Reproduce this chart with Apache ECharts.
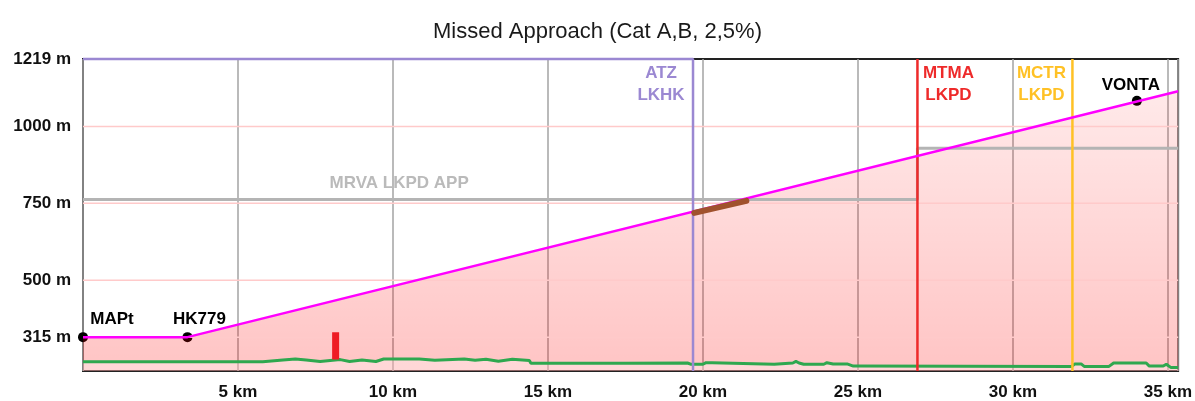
<!DOCTYPE html>
<html>
<head>
<meta charset="utf-8">
<title>Missed Approach</title>
<script src="https://cdn.jsdelivr.net/npm/echarts@6/dist/echarts.min.js"></script>
<style>
  html,body{margin:0;padding:0;background:#fff;}
  #box{width:1195px;height:401px;}
</style>
</head>
<body>
<div id="box"></div>
<script>
// y axis labels (m)
var yTicks = [315, 500, 750, 1000, 1219];
var yMin = 205, yMax = 1219;
var xMax = 35.33;

// missed approach track: km / m
var profileKm = [0, 3.37, 35.33];
var profileAlt = [315, 315, 1114];

// waypoints
var wptNames = ['MAPt', 'HK779', 'VONTA'];
var wptKm = [0, 3.37, 34.0];
var wptAlt = [315, 315, 1083];

// terrain profile
var terrainKm = [0,2.2,2.25,2.3,5.8,5.85,6.45,6.5,6.85,6.9,7.2,7.25,7.65,7.7,8.3,8.35,8.6,8.65,9.0,9.05,9.45,9.5,9.7,10.85,10.9,11.35,11.4,12.3,12.35,12.65,12.7,13.0,13.05,13.4,13.45,13.85,13.9,14.4,14.45,17.5,17.55,19.5,19.6,20.0,20.1,20.3,20.35,22.3,22.35,22.9,23.0,23.1,23.25,23.9,24.0,24.2,24.65,24.85,31.9,32.0,32.2,32.3,33.1,33.25,33.7,33.75,33.8,34.3,34.4,34.85,34.95,35.1,35.33];
var terrainAlt = [235,235,232,235,235,241,241,244,244,241,241,236,236,242,242,236,236,242,241,236,236,240,244,244,240,240,244,244,240,240,243,243,237,237,243,243,239,239,230,230,231,231,227,227,232,232,227,227,231,231,236,231,227,227,232,228,228,221,220,228,228,220,220,231,231,236,231,231,221,221,227,216,216];

// airspace boundaries
var zoneNames = ['ATZ\nLKHK', 'MTMA\nLKPD', 'MCTR\nLKPD'];
var zoneKm = [19.68, 26.92, 31.92];

// minimum radar vectoring altitude
var mrvaKm = [0, 26.92, 26.92, 35.33];
var mrvaAlt = [762, 762, 929, 929];
var mrvaLabel = 'MRVA LKPD APP';
var mrvaLabelKm = 10.2;

// obstacle
var obstKm = [8.15, 8.15];
var obstAlt = [242, 331];

// brown segment near ATZ
var segKm = [19.72, 21.4];
var segAlt = [719, 758];

function zip(a, b){
  return a.map(function(v, i){ return [v, b[i]]; });
}

var zoneColors = ['#9b88d2', '#ee2a2a', '#ffc125'];
var zoneOffsets = [[-32, 25], [31, 25], [-31, 25]];

var series = [];

// pink grid lines at the y ticks
yTicks.forEach(function(v){
  if (v >= yMax) return;
  series.push({
    type: 'line', data: [[0, v], [xMax, v]], symbol: 'none', silent: true,
    lineStyle: {color: '#ffcaca', width: 1.5}
  });
});

// area under the track
series.push({
  type: 'line', data: zip(profileKm, profileAlt), symbol: 'none',
  lineStyle: {width: 0},
  areaStyle: {
    color: new echarts.graphic.LinearGradient(0, 0, 0, 1, [
      {offset: 0, color: 'rgba(255,0,0,0.12)'},
      {offset: 1, color: 'rgba(255,0,0,0.33)'}
    ])
  }
});

// terrain
series.push({
  type: 'line', data: zip(terrainKm, terrainAlt), symbol: 'none',
  lineStyle: {color: '#2ea84f', width: 3},
  areaStyle: {color: 'rgba(255,255,255,0.45)'}
});

// MRVA
series.push({
  type: 'line', data: zip(mrvaKm, mrvaAlt), symbol: 'none',
  lineStyle: {color: '#b4b4b4', width: 3}
});

// airspace vertical lines
zoneKm.forEach(function(km, i){
  var d = [[km, yMax], [km, yMin]];
  if (i === 0) d.unshift([0, yMax]);
  series.push({
    type: 'line', data: d, symbol: 'none', clip: false,
    lineStyle: {color: zoneColors[i], width: 2.5}
  });
});

// obstacle
series.push({
  type: 'line', data: zip(obstKm, obstAlt), symbol: 'none',
  lineStyle: {color: '#ee1c24', width: 7, cap: 'butt'}
});

// track line
series.push({
  type: 'line', data: zip(profileKm, profileAlt), symbol: 'none',
  lineStyle: {color: '#ff00ff', width: 2.5}
});

// brown segment
series.push({
  type: 'line', data: zip(segKm, segAlt), symbol: 'none',
  lineStyle: {color: '#a0522d', width: 6, cap: 'round'}
});

// waypoints
var wptOffsets = [[29, -18], [12, -18], [-6, -16]];
series.push({
  type: 'scatter', symbolSize: 10, clip: false,
  itemStyle: {color: '#000', opacity: 1},
  data: wptKm.map(function(km, i){
    return {
      value: [km, wptAlt[i]], name: wptNames[i],
      label: {show: true, position: 'inside', offset: wptOffsets[i], formatter: '{b}',
        color: '#000', fontSize: 17, fontWeight: 'bold', fontFamily: 'Liberation Sans'}
    };
  })
});

// text labels (airspaces + MRVA)
var labelData = zoneKm.map(function(km, i){
  return {
    value: [km, yMax], name: zoneNames[i],
    label: {show: true, position: 'inside', offset: zoneOffsets[i], formatter: '{b}',
      color: zoneColors[i], fontSize: 17, fontWeight: 'bold', lineHeight: 22,
      fontFamily: 'Liberation Sans', align: 'center'}
  };
});
labelData.push({
  value: [mrvaLabelKm, mrvaAlt[0]], name: mrvaLabel,
  label: {show: true, position: 'inside', offset: [0, -16], formatter: '{b}',
    color: '#bababa', fontSize: 17, fontWeight: 'bold', fontFamily: 'Liberation Sans'}
});
series.push({
  type: 'scatter', symbolSize: 0, clip: false, silent: true,
  itemStyle: {opacity: 1},
  data: labelData
});

var option = {
  animation: false,
  backgroundColor: '#fff',
  title: {
    text: 'Missed Approach (Cat A,B, 2,5%)',
    left: 'center', top: 16,
    textStyle: {fontSize: 22, fontWeight: 'normal', color: '#1a1a1a', fontFamily: 'Liberation Sans'}
  },
  grid: {
    left: 83, right: 11, top: 59, bottom: 30,
    show: true, borderColor: '#222', borderWidth: 2, backgroundColor: '#fff'
  },
  xAxis: {
    type: 'value', min: 0, max: xMax, interval: 5,
    axisLine: {show: false}, axisTick: {show: false},
    splitLine: {show: true, lineStyle: {color: '#a3a3a3', width: 1.5}},
    axisLabel: {
      showMinLabel: false, showMaxLabel: false, margin: 13,
      color: '#111', fontSize: 17, fontWeight: 'bold', fontFamily: 'Liberation Sans',
      formatter: function(v){ return v + ' km'; }
    }
  },
  yAxis: {
    type: 'value', min: yMin, max: yMax,
    axisLine: {show: false}, axisTick: {show: false},
    splitLine: {show: false},
    axisLabel: {
      customValues: yTicks, margin: 12,
      color: '#111', fontSize: 17, fontWeight: 'bold', fontFamily: 'Liberation Sans',
      formatter: function(v){ return v + ' m'; }
    }
  },
  series: series
};

var mychart = echarts.init(document.getElementById('box'));
mychart.setOption(option);
</script>
</body>
</html>
